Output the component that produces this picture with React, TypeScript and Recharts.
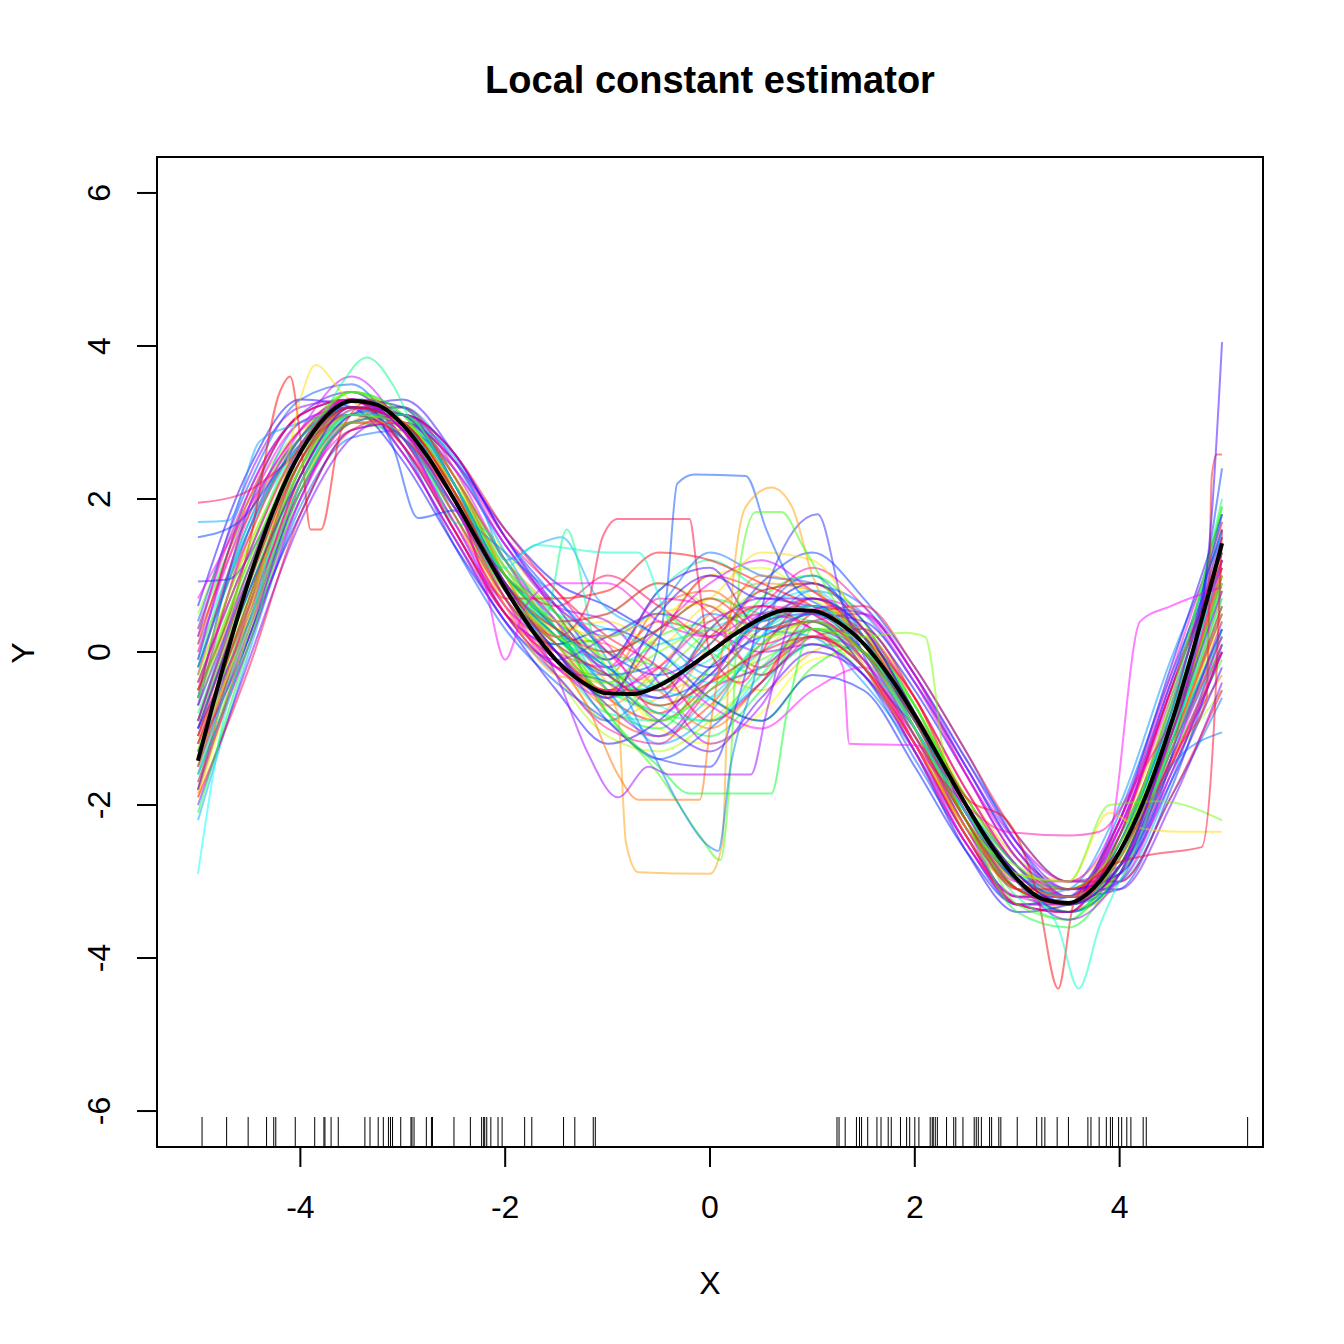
import { ComposedChart, Line, Scatter, XAxis, YAxis, ReferenceArea } from 'recharts';

// x positions shared by the plain bootstrap curves
const X_GRID = [-5, -4.5, -4, -3.5, -3, -2.5, -2, -1.5, -1, -0.5, 0, 0.5, 1, 1.5, 2, 2.5, 3, 3.5, 4, 4.5, 5];

// bootstrap fits read on X_GRID
const GRID_CURVES: number[][] = [
  [-1.8, 0.6, 2.4, 3.2, 3.0, 2.1, 0.9, 0.1, -0.6, -0.9, -0.4, 0.3, 0.6, 0.2, -0.9, -2.1, -3.0, -3.3, -2.7, -1.2, 0.5],
  [-0.4, 1.3, 2.7, 3.1, 2.8, 1.9, 0.8, 0.3, -0.1, 0.4, 0.2, -0.2, 0.2, 0.0, -0.8, -1.9, -2.8, -3.1, -2.5, -1.0, 0.9],
  [-1.0, 0.9, 2.5, 3.3, 3.1, 2.2, 1.1, 0.4, -0.8, -1.1, -0.7, 0.1, 0.5, 0.3, -0.7, -2.0, -3.0, -3.4, -2.8, -1.3, 0.2],
  [0.2, 1.8, 2.8, 3.2, 2.9, 2.0, 0.7, -0.2, -0.3, 0.6, 0.8, 0.4, 0.7, 0.2, -1.0, -2.2, -3.1, -3.2, -2.4, -0.8, 1.2],
  [-1.3, 0.5, 2.2, 3.0, 3.2, 2.3, 1.0, 0.2, 0.1, -0.5, -1.0, -0.4, 0.3, 0.0, -0.9, -2.1, -2.9, -3.3, -2.9, -1.4, -0.3],
  [-0.7, 1.1, 2.6, 3.4, 3.0, 1.8, 0.6, 0.0, -0.7, -0.2, 0.5, 0.9, 0.8, 0.1, -1.1, -2.3, -3.1, -3.2, -2.6, -1.0, 1.7],
  [-1.6, 0.4, 2.3, 3.2, 3.1, 2.1, 1.2, 0.5, -0.4, -0.8, 0.1, 0.6, 0.3, -0.1, -0.8, -1.9, -2.8, -3.4, -3.0, -1.2, 0.0],
  [0.0, 1.5, 2.9, 3.1, 2.7, 1.7, 0.7, -0.1, -0.9, -0.6, -0.3, -0.5, 0.0, 0.2, -0.6, -1.8, -2.7, -3.0, -2.3, -0.7, 1.0],
  [-1.2, 0.8, 2.5, 3.3, 3.0, 2.0, 0.9, 0.3, 0.4, 0.1, 0.6, 0.2, 0.4, -0.2, -1.2, -2.3, -3.0, -3.3, -2.7, -1.1, 0.6],
  [-0.3, 1.4, 2.6, 3.0, 2.9, 2.2, 1.3, 0.6, -0.2, -1.0, -1.2, -0.8, -0.1, 0.0, -0.7, -2.0, -2.9, -3.1, -2.5, -0.9, 1.3],
  [-1.9, 0.2, 2.1, 3.1, 3.2, 2.4, 1.0, 0.0, -0.5, 0.3, 1.0, 1.1, 0.7, 0.2, -0.9, -2.1, -3.0, -3.4, -2.8, -1.2, 0.4],
  [-0.9, 1.0, 2.7, 3.3, 2.8, 1.8, 0.8, 0.2, -0.3, -0.4, -0.7, 0.0, 0.4, 0.1, -1.0, -2.2, -3.0, -3.2, -2.6, -1.0, 0.8],
  [-1.4, 0.7, 2.4, 3.2, 3.0, 2.0, 0.9, -0.3, -1.1, -1.3, -0.9, -0.3, 0.3, 0.3, -0.6, -1.9, -2.9, -3.3, -2.9, -1.5, -0.5],
  [0.5, 2.0, 2.9, 3.2, 2.9, 2.1, 1.0, 0.4, 0.5, 0.9, 0.6, 0.3, 0.5, 0.0, -0.9, -2.0, -2.8, -3.2, -2.6, -1.1, 1.1],
  [-0.5, 1.2, 2.6, 3.1, 3.0, 2.1, 0.8, 0.1, -0.6, -0.3, 0.3, 0.8, 0.9, 0.3, -0.8, -2.2, -3.1, -3.3, -2.5, -0.9, 1.5],
  [-1.1, 0.6, 2.3, 3.3, 3.2, 2.2, 1.1, 0.2, -0.2, -0.7, -0.4, -0.1, 0.2, -0.3, -1.2, -2.3, -3.0, -3.2, -2.7, -1.2, 0.3],
  [-0.2, 1.6, 2.8, 3.4, 2.9, 1.9, 0.7, 0.0, -0.4, 0.2, 0.4, 0.5, 0.6, 0.2, -0.9, -2.1, -2.9, -3.3, -2.8, -1.1, 0.7],
  [-1.7, 0.3, 2.2, 3.1, 3.1, 2.3, 1.2, 0.5, 0.0, -0.2, -0.6, -0.9, -0.2, 0.1, -0.7, -2.0, -3.0, -3.4, -2.9, -1.4, -0.1],
  [-0.6, 1.1, 2.5, 3.2, 3.0, 2.0, 0.9, 0.3, -0.7, -1.0, -0.2, 0.7, 1.0, 0.4, -0.8, -2.1, -3.1, -3.3, -2.4, -0.8, 1.9],
  [-1.5, 0.5, 2.4, 3.0, 2.8, 1.9, 0.8, 0.1, 0.2, 0.5, 0.0, -0.3, 0.1, 0.0, -1.0, -2.2, -3.1, -3.4, -2.8, -1.3, 0.1],
  [0.3, 1.9, 2.8, 3.3, 2.9, 2.0, 0.9, 0.2, -0.5, -0.8, -1.1, -0.5, 0.3, 0.2, -0.8, -1.9, -2.8, -3.2, -2.6, -1.0, 0.9],
  [-0.8, 0.9, 2.6, 3.2, 3.1, 2.2, 1.0, 0.4, 0.0, 0.3, 0.7, 0.5, 0.4, 0.0, -1.1, -2.2, -3.0, -3.3, -2.7, -1.0, 1.4],
  [-1.3, 0.7, 2.3, 3.1, 3.2, 2.3, 1.1, 0.3, -0.4, -0.5, 0.2, 0.3, 0.6, 0.1, -0.9, -2.0, -2.9, -3.2, -2.6, -1.1, 0.6],
  [-0.1, 1.7, 2.7, 3.3, 2.8, 1.8, 0.7, -0.1, -0.8, -0.9, -0.5, 0.1, 0.5, 0.2, -0.7, -2.0, -3.0, -3.3, -2.8, -1.2, 0.2],
  [-1.0, 0.8, 2.5, 3.4, 3.1, 2.1, 0.9, 0.2, -0.1, 0.8, 1.2, 0.8, 0.5, -0.1, -1.1, -2.1, -2.9, -3.1, -2.4, -0.9, 1.2],
  [-0.4, 1.3, 2.8, 3.2, 2.9, 2.0, 0.8, 0.0, -0.6, -0.4, -0.1, 0.4, 0.7, 0.3, -0.8, -2.1, -3.0, -3.4, -2.9, -1.3, 0.0],
  [-1.2, 0.4, 2.2, 3.0, 3.0, 2.2, 1.1, 0.5, 0.3, 0.0, -0.4, -0.2, 0.2, 0.0, -0.9, -2.2, -3.1, -3.3, -2.5, -0.8, 1.6],
  [0.1, 1.6, 2.7, 3.1, 2.8, 1.9, 0.8, 0.1, -0.3, -0.7, -0.9, -0.3, 0.4, 0.1, -1.0, -2.3, -3.1, -3.2, -2.6, -1.0, 0.8],
  [-0.9, 1.0, 2.6, 3.3, 3.1, 2.1, 0.9, 0.3, -0.2, 0.1, 0.3, 0.6, 0.8, 0.2, -0.8, -2.0, -2.9, -3.3, -2.7, -1.1, 0.5],
  [-1.4, 0.6, 2.4, 3.2, 3.0, 2.0, 1.0, 0.4, -0.5, -1.1, -0.6, 0.0, 0.3, -0.1, -1.0, -2.1, -3.0, -3.3, -2.8, -1.2, 0.3],
  [-2.2, 0.0, 2.0, 3.1, 3.2, 2.5, 1.3, 0.3, -0.5, -1.2, -0.8, 0.2, 0.8, 0.5, -0.4, -1.5, -2.6, -3.2, -3.0, -1.7, 0.3],
  [-0.2, 1.7, 3.0, 3.2, 2.6, 1.5, 0.4, -0.3, -0.9, -0.3, 0.5, 0.3, 0.2, -0.4, -1.3, -2.4, -3.2, -3.1, -2.0, -0.1, 1.5],
  [-1.6, 0.1, 1.9, 2.8, 2.9, 2.4, 1.4, 0.6, 0.2, 0.6, 1.3, 1.0, 0.9, 0.6, -0.3, -1.4, -2.4, -3.0, -3.0, -1.9, -0.6],
  [0.4, 2.2, 3.3, 3.5, 2.7, 1.4, 0.3, -0.4, -0.9, -1.4, -1.0, -0.4, 0.1, -0.3, -1.4, -2.5, -3.3, -3.3, -2.1, -0.3, 1.3],
  [-1.0, 0.4, 2.1, 3.0, 3.1, 2.6, 1.5, 0.7, 0.0, -0.3, 0.1, 0.9, 1.3, 0.7, -0.2, -1.3, -2.5, -3.2, -3.1, -1.8, 0.1],
  [-0.6, 1.9, 3.1, 3.3, 2.7, 1.6, 0.5, 0.1, 0.3, 0.0, -0.6, -0.9, -0.3, -0.5, -1.5, -2.6, -3.3, -3.2, -2.2, -0.4, 1.6],
  [-1.8, 0.2, 1.8, 2.9, 3.0, 2.5, 1.6, 0.9, 0.6, 0.2, -0.2, 0.5, 0.9, 0.4, -0.5, -1.6, -2.7, -3.1, -2.9, -1.6, 0.0],
  [0.6, 2.4, 3.3, 3.2, 2.5, 1.4, 0.4, -0.5, -1.2, -0.9, -0.2, 0.2, 0.4, -0.2, -1.3, -2.6, -3.4, -3.3, -2.2, -0.2, 1.8],
  [-1.3, 0.2, 2.2, 3.1, 3.3, 2.6, 1.5, 0.6, -0.1, 0.8, 1.1, 0.3, 0.5, 0.4, -0.4, -1.5, -2.6, -3.1, -2.9, -1.7, -0.2],
  [-0.1, 2.1, 3.1, 3.4, 2.8, 1.7, 0.5, -0.2, -0.4, -0.9, -1.3, -0.6, 0.0, -0.3, -1.2, -2.4, -3.2, -3.2, -2.3, -0.5, 1.3],
  [-2.0, -0.1, 1.7, 2.8, 3.1, 2.6, 1.5, 0.5, -0.3, -0.6, 0.3, 0.7, 0.6, 0.5, -0.3, -1.4, -2.5, -3.1, -3.1, -2.0, -0.4],
  [0.2, 2.3, 3.2, 3.3, 2.6, 1.5, 0.4, -0.1, 0.2, 0.5, 0.3, 0.0, 0.1, -0.3, -1.3, -2.5, -3.3, -3.4, -2.4, -0.4, 1.1],
  [-1.5, 0.3, 2.0, 3.0, 3.1, 2.5, 1.4, 0.6, 0.4, -0.4, -1.2, -0.7, 0.4, 0.5, -0.3, -1.5, -2.5, -3.0, -2.8, -1.4, 0.4],
  [-0.7, 1.6, 2.9, 3.6, 2.9, 1.6, 0.6, 0.0, -0.7, -1.1, -0.4, 0.5, 0.6, 0.0, -1.1, -2.3, -3.3, -3.4, -2.3, -0.5, 1.5],
  [-1.2, 0.5, 2.3, 3.2, 3.2, 2.4, 1.2, 0.4, -0.2, 0.3, 0.9, 1.2, 0.8, 0.3, -0.6, -1.8, -2.8, -3.3, -2.8, -1.4, 0.2],
  [0.0, 1.9, 3.0, 3.2, 2.7, 1.7, 0.6, -0.2, -0.6, -0.2, -0.7, -1.0, -0.5, -0.2, -1.2, -2.5, -3.2, -3.3, -2.3, -0.6, 1.2],
  [-1.7, 0.1, 2.0, 3.0, 3.0, 2.4, 1.4, 0.6, 0.1, -0.8, -0.3, 0.4, 0.7, 0.5, -0.4, -1.6, -2.6, -3.2, -3.0, -1.6, 0.0],
  [0.3, 2.1, 3.1, 3.3, 2.6, 1.5, 0.5, 0.0, -0.2, 0.7, 0.6, 0.1, 0.3, -0.1, -1.2, -2.4, -3.3, -3.3, -2.2, -0.3, 1.7],
  [-1.1, 0.6, 2.1, 2.9, 3.0, 2.5, 1.5, 0.8, 0.0, -0.5, 0.0, 0.6, 1.1, 0.6, -0.3, -1.6, -2.7, -3.2, -2.9, -1.5, 0.1],
  [-0.3, 1.8, 2.9, 3.3, 2.8, 1.6, 0.5, -0.3, -1.0, -1.2, -0.5, -0.2, 0.2, -0.2, -1.3, -2.5, -3.2, -3.2, -2.2, -0.5, 1.4],
  [-1.4, 0.4, 2.3, 3.1, 3.1, 2.3, 1.2, 0.4, 0.5, 0.9, 0.5, -0.3, 0.2, 0.3, -0.6, -1.8, -2.8, -3.2, -2.8, -1.5, 0.0],
  [-0.5, 1.5, 2.8, 3.3, 2.9, 1.8, 0.7, 0.0, -0.5, 0.2, 1.0, 0.8, 0.5, 0.0, -1.0, -2.3, -3.1, -3.3, -2.5, -0.7, 1.4],
  [-1.9, -0.2, 1.8, 2.9, 3.1, 2.6, 1.6, 0.8, 0.2, -0.2, -0.9, -0.4, 0.5, 0.6, -0.2, -1.3, -2.4, -3.0, -3.0, -1.9, -0.5],
  [0.1, 2.0, 3.1, 3.3, 2.7, 1.6, 0.5, -0.1, -0.5, -0.5, 0.2, 0.6, 0.3, -0.2, -1.2, -2.4, -3.3, -3.4, -2.4, -0.5, 1.2],
];

// bootstrap fits with sharper features, read as [x, y] pairs
const FEATURE_CURVES: number[][][] = [
  [[-5, -2.9], [-4.8, -1.2], [-4.5, 0.3], [-4.2, 1.8], [-3.8, 2.8], [-3.4, 3.2], [-3, 3.0], [-2.5, 2.0], [-2, 0.9], [-1.5, 0.3], [-1, -0.2], [-0.5, -0.5], [0, -0.6], [0.5, 0.2], [1, 0.5], [1.5, 0.1], [2, -0.9], [2.5, -2.1], [3, -2.9], [3.5, -3.2], [4, -2.7], [4.5, -1.1], [5, 0.9]],
  [[-5, 1.7], [-4.7, 1.72], [-4.4, 2.75], [-4.1, 2.95], [-3.6, 3.1], [-3, 3.0], [-2.5, 2.55], [-2.2, 1.8], [-2, 1.2], [-1.7, 1.4], [-1.45, 1.5], [-1.1, 0.7], [-0.5, 0.2], [0, -0.3], [0.5, 0.3], [1, 0.6], [1.5, 0.0], [2, -0.9], [2.5, -2.0], [3, -2.8], [3.5, -3.3], [4, -2.7], [4.5, -1.0], [5, 1.2]],
  [[-5, 1.95], [-4.6, 2.05], [-4.2, 2.4], [-3.8, 2.9], [-3.4, 3.2], [-3, 2.9], [-2.5, 2.0], [-2, 1.0], [-1.5, 0.6], [-1, 1.0], [-0.5, 0.6], [0, 0.2], [0.5, 0.8], [1, 0.9], [1.5, 0.3], [2, -0.8], [2.5, -2.1], [3, -3.0], [3.5, -3.2], [4, -2.6], [4.5, -1.2], [5, 0.6]],
  [[-5, 1.5], [-4.6, 1.7], [-4.2, 2.4], [-3.8, 3.0], [-3.4, 3.3], [-3.1, 2.7], [-2.85, 1.75], [-2.5, 1.85], [-2, 1.0], [-1.5, 0.3], [-1, -0.2], [-0.5, -0.6], [0, -0.3], [0.5, 0.4], [1, 0.5], [1.5, 0.0], [2, -0.9], [2.5, -2.0], [3, -2.9], [3.5, -3.2], [4, -2.8], [4.5, -1.4], [5, 2.4]],
  [[-5, 0.92], [-4.7, 0.95], [-4.4, 1.5], [-4, 2.7], [-3.5, 3.3], [-3, 3.2], [-2.5, 2.2], [-2, 0.8], [-1.5, 0.0], [-1, -0.9], [-0.5, -1.4], [0, -1.5], [0.3, -0.5], [0.6, 1.0], [1.05, 1.8], [1.3, 0.6], [1.6, -0.3], [2, -1.0], [2.5, -2.1], [3, -3.0], [3.5, -3.4], [4, -2.9], [4.5, -1.3], [5, 0.3]],
  [[-5, -0.5], [-4.5, 1.4], [-4.2, 3.4], [-4.1, 3.6], [-4, 2.8], [-3.9, 1.6], [-3.8, 1.6], [-3.6, 2.9], [-3.3, 3.3], [-3, 3.0], [-2.5, 2.1], [-2.2, 1.0], [-2, 0.7], [-1.5, 0.7], [-1, 0.8], [-0.5, 1.3], [0, 1.2], [0.5, 0.9], [1, 0.6], [1.5, 0.2], [2, -0.6], [2.5, -1.9], [2.9, -2.2], [3.2, -3.2], [3.4, -4.4], [3.55, -3.3], [4, -2.6], [4.5, -1.1], [5, 1.0]],
  [[-5, -1.2], [-4.5, 0.5], [-4.2, 2.0], [-4, 3.3], [-3.85, 3.75], [-3.6, 3.4], [-3.2, 3.0], [-2.8, 2.7], [-2.5, 2.2], [-2, 1.1], [-1.5, 0.4], [-1, 0.2], [-0.5, 0.5], [0, 0.7], [0.5, 1.3], [1, 1.2], [1.5, 0.3], [2, -0.9], [2.5, -2.1], [3, -2.9], [3.5, -3.0], [3.9, -2.1], [4.2, -2.3], [4.6, -2.35], [5, -2.35]],
  [[-5, -0.9], [-4.5, 0.8], [-4, 2.4], [-3.6, 3.5], [-3.35, 3.85], [-3.1, 3.5], [-2.8, 2.6], [-2.5, 1.7], [-2.2, 1.6], [-2, 1.2], [-1.6, 0.5], [-1.4, 1.6], [-1.1, 0.0], [-0.5, -0.8], [0, -0.9], [0.5, -0.2], [1, 0.3], [1.5, -0.2], [2, -0.9], [2.5, -2.2], [3, -3.2], [3.5, -3.5], [4, -2.5], [4.5, -0.7], [5, 2.0]],
  [[-5, -0.7], [-4.5, 1.0], [-4, 2.6], [-3.5, 3.2], [-3, 3.0], [-2.5, 2.0], [-2, 0.9], [-1.5, 0.2], [-1, -0.3], [-0.6, -0.2], [-0.42, 0.8], [-0.32, 2.2], [-0.15, 2.32], [0.35, 2.3], [0.55, 1.6], [0.8, 0.9], [1.2, 0.5], [1.5, 0.1], [2, -0.9], [2.5, -2.1], [3, -3.0], [3.5, -3.3], [4, -2.5], [4.5, -0.8], [5, 1.8]],
  [[-5, -1.85], [-4.5, 0.3], [-4, 2.2], [-3.5, 3.0], [-3, 3.0], [-2.5, 2.0], [-2, 0.6], [-1.5, -0.3], [-1.1, -0.4], [-0.9, -0.8], [-0.82, -2.5], [-0.7, -2.88], [0, -2.9], [0.12, -2.5], [0.2, 0.5], [0.35, 1.9], [0.6, 2.15], [0.8, 1.9], [1, 1.0], [1.3, 0.3], [1.6, -0.4], [2, -1.2], [2.5, -2.3], [3, -3.0], [3.5, -3.2], [4, -2.7], [4.5, -1.3], [5, 0.8]],
  [[-5, -1.1], [-4.5, 0.9], [-4, 2.5], [-3.5, 3.1], [-3, 2.8], [-2.5, 2.0], [-2, 0.9], [-1.5, 0.2], [-1.2, 0.6], [-1.05, 1.5], [-0.9, 1.74], [-0.2, 1.74], [-0.12, 1.0], [0, 0.0], [0.3, -0.4], [0.6, 0.2], [1, 0.7], [1.5, 0.2], [2, -0.8], [2.5, -2.0], [3, -2.9], [3.5, -3.3], [4, -2.8], [4.5, -1.1], [5, 1.1]],
  [[-5, -0.6], [-4.5, 1.2], [-4, 2.6], [-3.5, 3.4], [-3, 3.1], [-2.5, 2.1], [-2, 1.0], [-1.5, 0.5], [-1, -0.8], [-0.5, -1.6], [-0.1, -2.4], [0.1, -2.72], [0.2, -1.5], [0.3, 1.2], [0.45, 1.83], [0.7, 1.83], [0.9, 1.4], [1.2, 0.7], [1.5, 0.1], [2, -0.7], [2.5, -2.0], [3, -3.3], [3.5, -3.5], [4, -2.6], [4.5, -0.6], [5, 1.9]],
  [[-5, -0.2], [-4.5, 1.6], [-4, 2.8], [-3.5, 3.2], [-3, 2.8], [-2.5, 1.9], [-2, 1.3], [-1.5, 0.7], [-1, -0.1], [-0.6, -1.2], [-0.3, -2.0], [0, -2.55], [0.08, -2.6], [0.2, -1.5], [0.4, -0.5], [0.7, 0.8], [1, 1.0], [1.5, 0.2], [2, -1.0], [2.5, -2.2], [3, -3.0], [3.5, -3.3], [4, -3.0], [4.5, -1.5], [5, -1.05]],
  [[-5, -1.5], [-4.5, 0.6], [-4, 2.4], [-3.5, 3.2], [-3, 3.1], [-2.5, 2.3], [-2, 1.0], [-1.5, -0.1], [-1.2, -0.7], [-0.9, -1.6], [-0.7, -1.93], [-0.1, -1.93], [0, -1.0], [0.2, 0.5], [0.5, 1.0], [1, 0.8], [1.5, 0.1], [2, -1.0], [2.5, -2.4], [3, -3.1], [3.5, -3.3], [4, -2.7], [4.5, -1.2], [5, 0.5]],
  [[-5, -2.1], [-4.5, 0.1], [-4, 2.1], [-3.5, 3.0], [-3, 3.1], [-2.5, 2.2], [-2, 1.0], [-1.5, 0.3], [-1, -0.8], [-0.5, -1.5], [-0.2, -1.85], [0.6, -1.85], [0.75, -0.8], [1, 0.3], [1.5, 0.0], [2, -0.8], [2.5, -2.2], [3, -3.4], [3.5, -3.6], [4, -2.8], [4.5, -1.2], [5, 1.0]],
  [[-5, 0.7], [-4.5, 1.9], [-4, 2.9], [-3.5, 3.3], [-3, 2.9], [-2.5, 2.0], [-2.2, 0.9], [-2, -0.1], [-1.8, 0.6], [-1.5, 0.9], [-1, 0.9], [-0.5, 0.4], [0, 0.2], [0.5, 0.5], [1, 0.3], [1.3, -0.2], [1.36, -1.2], [2, -1.22], [2.3, -1.6], [2.5, -2.1], [3, -3.0], [3.5, -3.0], [3.9, -2.4], [4.2, 0.4], [4.5, 0.6], [5, 0.85]],
  [[-5, -1.3], [-4.5, 0.7], [-4, 2.4], [-3.5, 3.1], [-3, 3.0], [-2.5, 2.1], [-2, 0.8], [-1.5, 0.1], [-1, -0.4], [-0.5, 0.0], [0, 0.3], [0.5, 0.2], [1, 0.3], [1.5, 0.2], [1.9, 0.25], [2.1, 0.2], [2.3, -1.5], [2.6, -2.4], [3, -2.8], [3.5, -3.1], [4, -2.5], [4.5, -1.0], [5, 0.9]],
  [[-5, -0.9], [-4.5, 1.0], [-4, 2.6], [-3.5, 3.2], [-3, 3.0], [-2.5, 2.1], [-2, 0.9], [-1.5, 0.3], [-1, 0.0], [-0.5, 0.3], [0, 0.7], [0.5, 0.3], [1, 0.4], [1.5, 0.0], [2, -0.9], [2.5, -2.2], [3, -3.1], [3.5, -3.1], [4, -2.6], [4.6, -1.2], [4.85, -0.6], [4.9, 2.3], [4.95, 2.58], [5, 2.58]],
  [[-5, -1.0], [-4.5, 0.8], [-4, 2.3], [-3.5, 3.2], [-3, 3.1], [-2.5, 2.2], [-2, 0.9], [-1.5, 0.0], [-1, -0.6], [-0.5, 0.5], [0, 1.0], [0.5, 0.7], [1, 0.7], [1.5, 0.3], [2, -0.8], [2.5, -2.0], [3, -2.9], [3.5, -3.3], [4, -2.8], [4.5, -1.0], [4.8, 0.5], [4.9, 1.8], [5, 4.05]],
  [[-5, -0.3], [-4.5, 1.4], [-4, 2.7], [-3.5, 3.4], [-3, 3.0], [-2.5, 2.0], [-2, 0.8], [-1.5, 0.2], [-1, -0.1], [-0.5, -0.9], [0, -0.5], [0.5, 0.1], [1, 0.4], [1.5, 0.0], [2, -1.0], [2.5, -2.2], [3, -2.9], [3.5, -3.0], [3.9, -2.0], [4.4, -1.95], [5, -2.2]],
  [[-5, -1.6], [-4.5, 0.4], [-4, 2.2], [-3.5, 3.1], [-3, 3.1], [-2.5, 2.2], [-2, 1.1], [-1.7, 1.4], [-1, 1.3], [-0.7, 1.3], [-0.4, 0.4], [0, 0.0], [0.5, 0.4], [1, 0.6], [1.5, 0.1], [2, -1.0], [2.5, -2.1], [3, -3.0], [3.4, -3.6], [3.6, -4.4], [3.8, -3.6], [4.2, -2.4], [4.5, -1.2], [5, 0.7]],
  [[-5, -0.4], [-4.5, 1.3], [-4, 2.7], [-3.5, 3.3], [-3, 2.9], [-2.5, 1.9], [-2, 0.7], [-1.5, -0.2], [-1, -0.5], [-0.5, -0.2], [0, 0.4], [0.5, 0.6], [1, 0.5], [1.5, -0.1], [2, -1.2], [2.5, -2.0], [2.9, -2.35], [3.5, -2.4], [3.8, -2.35], [4.2, -1.6], [4.6, -0.6], [5, 1.2]],
  [[-5, -1.2], [-4.5, 0.7], [-4, 2.5], [-3.5, 3.2], [-3, 3.0], [-2.5, 2.1], [-2, 0.8], [-1.5, 0.1], [-1, -0.3], [-0.5, -0.7], [0, -0.4], [0.5, 0.0], [1, 0.2], [1.5, -0.2], [2, -1.1], [2.5, -2.2], [3, -3.1], [3.5, -3.3], [3.9, -2.8], [4.3, -2.65], [4.8, -2.55], [4.92, -1.0], [5, 1.6]],
  [[-5, -0.9], [-4.5, 1.1], [-4, 2.6], [-3.5, 3.3], [-3, 2.9], [-2.5, 1.9], [-2, 0.8], [-1.5, -0.3], [-1.2, -1.3], [-0.9, -1.9], [-0.6, -1.5], [-0.4, -1.6], [0.4, -1.6], [0.55, -0.8], [0.8, 0.4], [1.2, 0.6], [1.5, 0.1], [2, -0.8], [2.5, -2.0], [3, -3.0], [3.5, -3.5], [4, -2.9], [4.5, -1.1], [5, 0.8]],
];

const FEATURE_COLORS = [
  'rgba(0,255,255,0.5)', 'rgba(0,170,255,0.5)', 'rgba(255,0,90,0.5)', 'rgba(0,60,255,0.5)',
  'rgba(40,40,255,0.5)', 'rgba(255,0,0,0.5)', 'rgba(255,220,0,0.5)', 'rgba(0,255,128,0.5)',
  'rgba(0,80,255,0.5)', 'rgba(255,160,0,0.5)', 'rgba(255,0,60,0.5)', 'rgba(60,255,0,0.5)',
  'rgba(0,120,255,0.5)', 'rgba(255,110,0,0.5)', 'rgba(0,255,40,0.5)', 'rgba(255,0,255,0.5)',
  'rgba(120,255,0,0.5)', 'rgba(255,20,20,0.5)', 'rgba(60,0,255,0.5)', 'rgba(100,255,0,0.5)',
  'rgba(0,255,200,0.5)', 'rgba(255,0,180,0.5)', 'rgba(255,0,40,0.5)', 'rgba(160,0,255,0.5)',
];

// true regression curve
const TRUE_X = [-5, -4.75, -4.5, -4.25, -4, -3.75, -3.5, -3.25, -3, -2.75, -2.5, -2.25, -2, -1.75, -1.5, -1.25, -1, -0.75, -0.5, -0.25, 0,
  0.25, 0.5, 0.75, 1, 1.25, 1.5, 1.75, 2, 2.25, 2.5, 2.75, 3, 3.25, 3.5, 3.75, 4, 4.25, 4.5, 4.75, 5];
const TRUE_Y = [-1.42, -0.18, 0.95, 1.9, 2.61, 3.08, 3.28, 3.23, 2.97, 2.54, 2.0, 1.41, 0.83, 0.31, -0.11, -0.39, -0.54, -0.55, -0.44, -0.24, 0,
  0.24, 0.44, 0.55, 0.54, 0.39, 0.11, -0.31, -0.83, -1.41, -2.0, -2.54, -2.97, -3.23, -3.28, -3.08, -2.61, -1.9, -0.95, 0.18, 1.42];

// sample X positions (rug)
const RUG_X = [-4.96, -4.72, -4.51, -4.33, -4.26, -4.24, -4.05, -3.86, -3.77, -3.76, -3.7, -3.63, -3.37, -3.32, -3.24, -3.19, -3.14, -3.12, -3.1,
  -3.02, -2.92, -2.91, -2.89, -2.77, -2.72, -2.71, -2.5, -2.34, -2.23, -2.21, -2.2, -2.18, -2.14, -2.07, -2.03, -1.81, -1.74, -1.43, -1.32,
  -1.14, -1.12, 1.24, 1.26, 1.32, 1.43, 1.46, 1.48, 1.54, 1.63, 1.67, 1.74, 1.77, 1.86, 1.92, 1.95, 2.0, 2.04, 2.15, 2.17, 2.18, 2.2, 2.22,
  2.31, 2.38, 2.4, 2.47, 2.58, 2.6, 2.62, 2.65, 2.73, 2.75, 2.82, 2.84, 3.0, 3.19, 3.24, 3.27, 3.39, 3.5, 3.69, 3.72, 3.8, 3.87, 3.91, 3.93,
  3.99, 4.02, 4.07, 4.11, 4.23, 4.26, 5.25];

const X_TICKS = [-4, -2, 0, 2, 4];
const Y_TICKS = [-6, -4, -2, 0, 2, 4, 6];
const X_DOMAIN = [-5.4, 5.4];
const Y_DOMAIN = [-6.47, 6.47];

const FONT = '"Liberation Sans", Arial, Helvetica, sans-serif';

const gridSeries = GRID_CURVES.map((ys) => X_GRID.map((x, i) => ({ x, y: ys[i] })));
const featureSeries = FEATURE_CURVES.map((pts) => pts.map(([x, y]) => ({ x, y })));
const trueSeries = TRUE_X.map((x, i) => ({ x, y: TRUE_Y[i] }));
const rugData = RUG_X.map((x) => ({ x, y: Y_DOMAIN[0] }));

const RugMark = (props: any) => {
  const { cx, cy } = props;
  if (cx == null || cy == null) return null;
  return <line x1={cx} x2={cx} y1={cy} y2={cy - 30} stroke="#000" strokeWidth={1} />;
};

const YTick = (props: any) => {
  const { x, y, payload } = props;
  return (
    <text
      x={x}
      y={y}
      transform={`rotate(-90, ${x}, ${y})`}
      textAnchor="middle"
      fill="#000"
      fontSize={32}
      fontFamily={FONT}
    >
      {payload.value}
    </text>
  );
};

export default function App() {
  return (
    <div style={{ position: 'absolute', left: 0, top: 0, width: 1344, height: 1344, background: '#fff' }}>
      <div
        style={{
          position: 'absolute', left: 157, width: 1106, top: 60, textAlign: 'center',
          fontFamily: FONT, fontWeight: 'bold', fontSize: 38, lineHeight: '40px', color: '#000',
        }}
      >
        Local constant estimator
      </div>
      <div
        style={{
          position: 'absolute', left: 157, width: 1106, top: 1265, textAlign: 'center',
          fontFamily: FONT, fontSize: 32, lineHeight: '36px', color: '#000',
        }}
      >
        X
      </div>
      <div
        style={{
          position: 'absolute', left: 23, top: 653, transform: 'translate(-50%, -50%) rotate(-90deg)',
          fontFamily: FONT, fontSize: 32, lineHeight: '36px', color: '#000',
        }}
      >
        Y
      </div>
      <ComposedChart width={1344} height={1344} margin={{ top: 157, right: 81, bottom: 0, left: 0 }}>
        <XAxis
          dataKey="x"
          type="number"
          domain={X_DOMAIN}
          ticks={X_TICKS}
          allowDataOverflow
          height={197}
          axisLine={false}
          tickSize={20}
          tickMargin={28}
          tickLine={{ stroke: '#000', strokeWidth: 2 }}
          tick={{ fill: '#000', fontSize: 32, fontFamily: FONT }}
        />
        <YAxis
          dataKey="y"
          type="number"
          domain={Y_DOMAIN}
          ticks={Y_TICKS}
          allowDataOverflow
          width={157}
          axisLine={false}
          tickSize={20}
          tickMargin={27}
          tickLine={{ stroke: '#000', strokeWidth: 2 }}
          tick={<YTick />}
        />
        {gridSeries.map((d, i) => (
          <Line
            key={`g${i}`}
            data={d}
            dataKey="y"
            type="monotone"
            dot={false}
            activeDot={false}
            stroke={`hsla(${(i * 360) / GRID_CURVES.length}, 100%, 50%, 0.5)`}
            strokeWidth={2}
            isAnimationActive={false}
          />
        ))}
        {featureSeries.map((d, i) => (
          <Line
            key={`f${i}`}
            data={d}
            dataKey="y"
            type="monotone"
            dot={false}
            activeDot={false}
            stroke={FEATURE_COLORS[i % FEATURE_COLORS.length]}
            strokeWidth={2}
            isAnimationActive={false}
          />
        ))}
        <Line
          data={trueSeries}
          dataKey="y"
          type="monotone"
          dot={false}
          activeDot={false}
          stroke="#000"
          strokeWidth={4}
          isAnimationActive={false}
        />
        <Scatter data={rugData} dataKey="y" shape={<RugMark />} isAnimationActive={false} />
        <ReferenceArea
          x1={X_DOMAIN[0]}
          x2={X_DOMAIN[1]}
          y1={Y_DOMAIN[0]}
          y2={Y_DOMAIN[1]}
          fill="none"
          fillOpacity={0}
          stroke="#000"
          strokeWidth={2}
          ifOverflow="visible"
        />
      </ComposedChart>
    </div>
  );
}
